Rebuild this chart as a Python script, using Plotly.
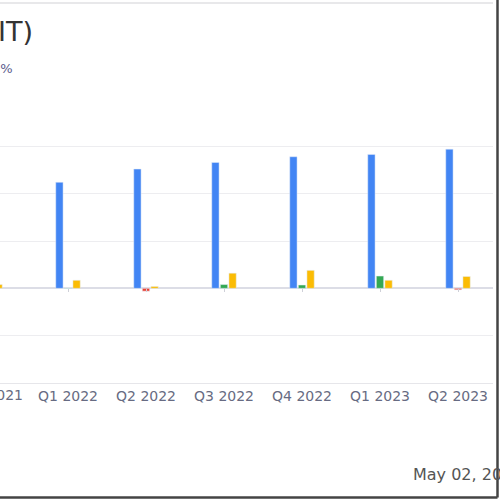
import plotly.graph_objects as go

quarters = ["Q4 2021", "Q1 2022", "Q2 2022", "Q3 2022", "Q4 2022", "Q1 2023", "Q2 2023"]
revenue = [100, 112, 126, 133, 139, 141.5, 147]
net_income = [1, 0.3, -3, 4, 3.5, 13, -1.5]
cash_flow = [4, 8.5, 2, 16, 19, 8.5, 12.5]

title_text = "Performance Overview (INIT)"
subtitle_text = "Revenue growth: 5.8%"
date_text = "May 02, 2024"

W, H = 500, 500
ML, MR, MT, MB = 0, 7, 99, 117
PW = W - ML - MR
PH = H - MT - MB


def px_x(p):
    return (p - ML) / PW


def px_y(p):
    return (H - MB - p) / PH


ni_colors = ["#34A853" if v >= 0 else "#EA4335" for v in net_income]

fig = go.Figure()
fig.add_trace(go.Bar(x=quarters, y=revenue, name="Revenue", marker_color="#4285F4"))
fig.add_trace(go.Bar(x=quarters, y=net_income, name="Net Income", marker_color=ni_colors))
fig.add_trace(go.Bar(x=quarters, y=cash_flow, name="Cash Flow", marker_color="#FBBC04"))
fig.add_trace(go.Scatter(x=quarters, y=[0] * len(quarters), xaxis="x2", mode="markers",
                         marker=dict(opacity=0), hoverinfo="skip", showlegend=False))

xr = [10 / 78, (PW + 10) / 78]

fig.update_layout(
    width=W, height=H,
    margin=dict(l=ML, r=MR, t=MT, b=MB, autoexpand=False),
    paper_bgcolor="white", plot_bgcolor="white",
    barmode="group", bargap=0.67, bargroupgap=0.15,
    showlegend=False,
    font=dict(family="DejaVu Sans", color="#666a80"),
    xaxis=dict(type="category", categoryarray=quarters, categoryorder="array",
               range=xr, showgrid=False, zeroline=False,
               showline=True, linecolor="#e6e6ea", linewidth=1,
               ticks="", tickfont=dict(size=14, color="#676b82"), ticklabelstandoff=0),
    xaxis2=dict(type="category", categoryarray=quarters, categoryorder="array",
                range=xr, overlaying="x", anchor="free", position=1 / 3,
                showgrid=False, zeroline=False, showline=False, showticklabels=False,
                ticks="outside", ticklen=3, tickcolor="#cfd0d8"),
    yaxis=dict(range=[-100, 200], dtick=50, showticklabels=False,
               gridcolor="#ededf0", gridwidth=1,
               zeroline=True, zerolinecolor="#dcdde6", zerolinewidth=1.5),
)

fig.add_annotation(text=title_text, xref="paper", yref="paper", x=px_x(35), y=px_y(31),
                   xanchor="right", yanchor="middle", showarrow=False,
                   font=dict(size=27, color="#333333", family="DejaVu Sans"))
fig.add_annotation(text=subtitle_text, xref="paper", yref="paper", x=px_x(15), y=px_y(69),
                   xanchor="right", yanchor="middle", showarrow=False,
                   font=dict(size=13, color="#5b5b8c", family="DejaVu Sans"))
fig.add_annotation(text=quarters[0], xref="paper", yref="paper", x=px_x(-7), y=px_y(395),
                   xanchor="center", yanchor="middle", showarrow=False,
                   font=dict(size=14, color="#676b82", family="DejaVu Sans"))
fig.add_annotation(text=date_text, xref="paper", yref="paper", x=px_x(411), y=px_y(474),
                   xanchor="left", yanchor="middle", showarrow=False,
                   font=dict(size=16, color="#555555", family="DejaVu Sans"))

fig.add_shape(type="line", xref="paper", yref="paper", x0=px_x(-2), x1=px_x(493),
              y0=px_y(3), y1=px_y(3), line=dict(color="#e8e8ea", width=2))
fig.add_shape(type="line", xref="paper", yref="paper", x0=px_x(497.5), x1=px_x(497.5),
              y0=px_y(-2), y1=px_y(497.5), line=dict(color="#444444", width=2.5))
fig.add_shape(type="line", xref="paper", yref="paper", x0=px_x(-2), x1=px_x(497.5),
              y0=px_y(497.5), y1=px_y(497.5), line=dict(color="#444444", width=2.5))

fig.write_html("out.html", config={"displayModeBar": False},
               post_script="document.body.style.margin='0px';")
